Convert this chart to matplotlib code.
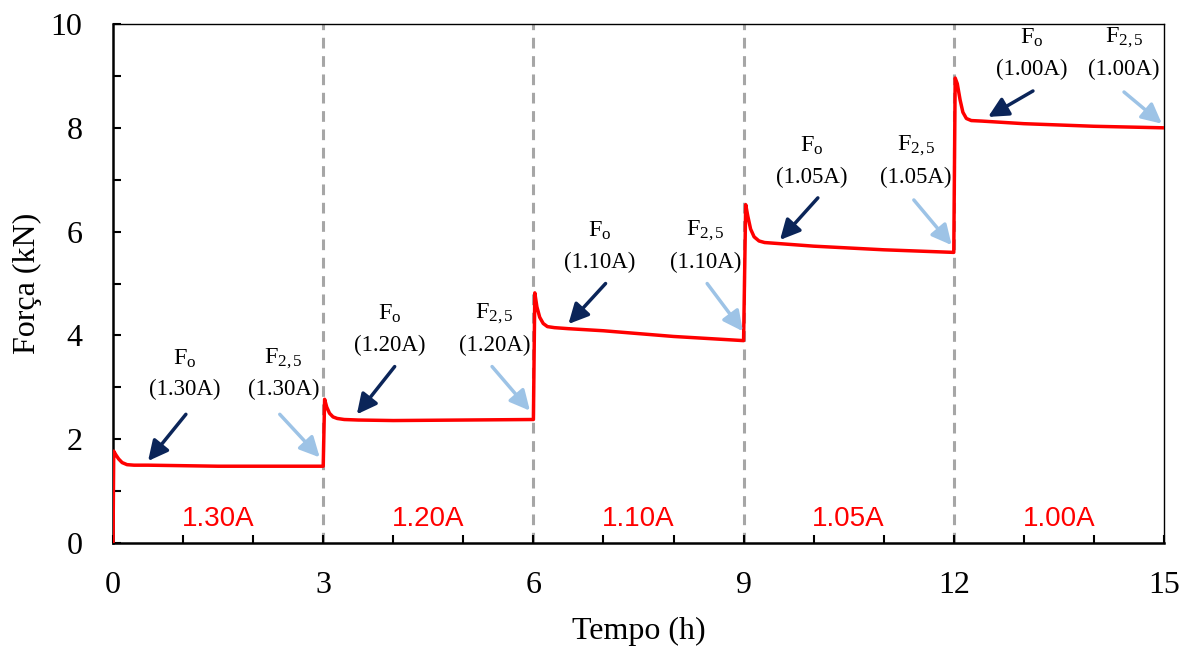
import numpy as np
import matplotlib.pyplot as plt
from matplotlib.ticker import MultipleLocator

plt.rcParams['font.family'] = ['Liberation Serif', 'DejaVu Serif']
plt.rcParams['mathtext.fontset'] = 'custom'
plt.rcParams['mathtext.rm'] = 'Liberation Serif'
plt.rcParams['mathtext.it'] = 'Liberation Serif:italic'

# Force readings for each current step (time in h, force in kN)
t_130 = [0.0, 0.01, 0.04, 0.08, 0.13, 0.2, 0.3, 0.5, 1.0, 1.5, 2.0, 2.5, 3.0]
f_130 = [0.0, 1.77, 1.70, 1.62, 1.55, 1.51, 1.50, 1.50, 1.49, 1.48, 1.48, 1.48, 1.48]
t_120 = [3.0, 3.02, 3.05, 3.09, 3.14, 3.2, 3.3, 3.5, 4.0, 5.0, 6.0]
f_120 = [1.48, 2.77, 2.62, 2.50, 2.43, 2.40, 2.38, 2.37, 2.36, 2.37, 2.38]
t_110 = [6.0, 6.02, 6.05, 6.09, 6.14, 6.2, 6.3, 6.5, 7.0, 8.0, 9.0]
f_110 = [2.38, 4.82, 4.55, 4.35, 4.23, 4.17, 4.15, 4.13, 4.09, 3.98, 3.90]
t_105 = [9.0, 9.03, 9.06, 9.1, 9.15, 9.22, 9.3, 9.5, 10.0, 11.0, 12.0]
f_105 = [3.90, 6.52, 6.30, 6.05, 5.90, 5.82, 5.79, 5.77, 5.72, 5.65, 5.60]
t_100 = [12.0, 12.02, 12.05, 12.09, 12.13, 12.18, 12.25, 12.4, 13.0, 14.0, 15.0]
f_100 = [5.60, 8.96, 8.85, 8.54, 8.30, 8.18, 8.14, 8.13, 8.08, 8.03, 8.00]

step_times = [3, 6, 9, 12]
step_labels = ['1.30A', '1.20A', '1.10A', '1.05A', '1.00A']
step_centers = [1.5, 4.5, 7.5, 10.5, 13.5]

# Arrow annotations: (label, text x, text y, arrow start, arrow end)
fo_notes = [
    ('(1.30A)', 1.03, 2.95, (1.04, 2.48), (0.50, 1.58)),
    ('(1.20A)', 3.95, 3.81, (4.02, 3.40), (3.48, 2.48)),
    ('(1.10A)', 6.95, 5.41, (7.03, 5.00), (6.50, 4.22)),
    ('(1.05A)', 9.97, 7.05, (10.06, 6.65), (9.52, 5.84)),
    ('(1.00A)', 13.11, 9.13, (13.13, 8.71), (12.49, 8.21)),
]
f25_notes = [
    ('(1.30A)', 2.43, 2.95, (2.38, 2.48), (2.95, 1.65)),
    ('(1.20A)', 5.45, 3.81, (5.41, 3.40), (5.95, 2.55)),
    ('(1.10A)', 8.46, 5.41, (8.48, 5.00), (8.99, 4.08)),
    ('(1.05A)', 11.46, 7.05, (11.43, 6.61), (11.97, 5.74)),
    ('(1.00A)', 14.43, 9.13, (14.43, 8.69), (14.97, 8.08)),
]

fig = plt.figure(figsize=(11.91, 6.46), dpi=100)
ax = fig.add_axes([0.0949, 0.1594, 0.8824, 0.8034])

for x in step_times:
    ax.plot([x, x], [0, 10], color='#a6a6a6', linestyle=(0, (3.5, 2.5)),
            linewidth=2.2, zorder=1)

t_all = np.concatenate([t_130, t_120, t_110, t_105, t_100])
f_all = np.concatenate([f_130, f_120, f_110, f_105, f_100])
ax.plot(t_all, f_all, color='#ff0000', linewidth=2.5, zorder=3)

for xc, lab in zip(step_centers, step_labels):
    ax.text(xc, 0.46, lab, color='#ff0000', fontsize=20, family='Liberation Sans',
            ha='center', va='center')

for notes, sub, col in [(fo_notes, 'o', '#0b2559'), (f25_notes, '2,5', '#9dc3e6')]:
    for lab, tx, ty, start, end in notes:
        ax.text(tx, ty + 0.6, r'F$_{\mathrm{' + sub + '}}$', fontsize=17.5,
                ha='center', va='center')
        ax.text(tx, ty, lab, fontsize=16.5, ha='center', va='center')
        ax.annotate('', xy=end, xytext=start,
                    arrowprops=dict(arrowstyle='-|>,head_length=1.2,head_width=0.6',
                                    color=col, lw=2.5, shrinkA=0, shrinkB=0))

ax.set_xlim(0, 15)
ax.set_ylim(0, 10)
ax.xaxis.set_major_locator(MultipleLocator(3))
ax.xaxis.set_minor_locator(MultipleLocator(1))
ax.yaxis.set_major_locator(MultipleLocator(2))
ax.yaxis.set_minor_locator(MultipleLocator(1))
ax.tick_params(axis='both', which='both', direction='in', length=6, width=1.5,
               labelsize=23)
ax.tick_params(axis='x', which='both', pad=20)
ax.tick_params(axis='y', which='both', pad=22)
ax.set_xlabel('Tempo (h)', fontsize=23, labelpad=12)
ax.set_ylabel('Força (kN)', fontsize=23, labelpad=6)

for side in ['left', 'bottom']:
    ax.spines[side].set_linewidth(1.8)
for side in ['top', 'right']:
    ax.spines[side].set_linewidth(1.0)

plt.savefig('out.png', dpi=100)
